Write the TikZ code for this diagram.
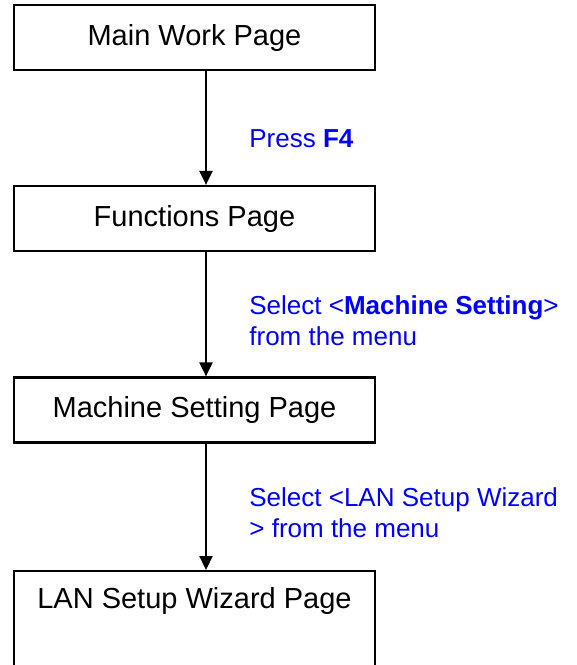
\documentclass[tikz,border=0pt]{standalone}
\usepackage{fontspec}
\setmainfont{Liberation Sans}
\usepackage{tikz}
\usetikzlibrary{arrows.meta, positioning}
\definecolor{hintblue}{RGB}{0,0,255}

\begin{document}
\begin{tikzpicture}[
  x=0.5pt, y=-0.5pt,
  page/.style={draw, line width=1.1pt, minimum width=180.5pt, minimum height=32.5pt,
               inner sep=0pt, font=\fontsize{14.5}{17}\selectfont},
  lastpage/.style={page, anchor=north, text height=11pt, text depth=70pt, inner ysep=7.5pt},
  hint/.style={text=hintblue, align=left, anchor=base west, inner sep=0pt,
               font=\fontsize{13}{15.5}\selectfont},
  arr/.style={-{Triangle[length=7pt, width=6.5pt]}, line width=1.1pt}
]
  % ---- picture frame, the last box runs off the bottom ----
  \useasboundingbox (0,0) rectangle (577,665);
  \clip (0,0) rectangle (577,665);

  % ---- the four pages, one column ----
  \node[page]     (main) at (194.5,37.5) {Main Work Page};
  \node[page]     (func) at (194.5,218.5) {Functions Page};
  \node[page]     (mach) at (194.5,410)  {Machine Setting Page};
  \node[lastpage] (lan)  at (194.5,570)  {LAN Setup Wizard Page};

  % ---- what to do at each step (base = last line) ----
  \node[hint] (press)  at (249,147) {Press \textbf{F4}};
  \node[hint] (selms)  at (249,345) {Select <\textbf{Machine Setting}>\\from the menu};
  \node[hint] (sellan) at (249,537) {Select <LAN Setup Wizard\\> from the menu};

  % ---- arrows, a little right of the box centre ----
  \draw[arr] ([xshift=5.75pt]main.south) -- ([xshift=5.75pt]func.north);
  \draw[arr] ([xshift=5.75pt]func.south) -- ([xshift=5.75pt]mach.north);
  \draw[arr] ([xshift=5.75pt]mach.south) -- ([xshift=5.75pt]lan.north);
\end{tikzpicture}
\end{document}
